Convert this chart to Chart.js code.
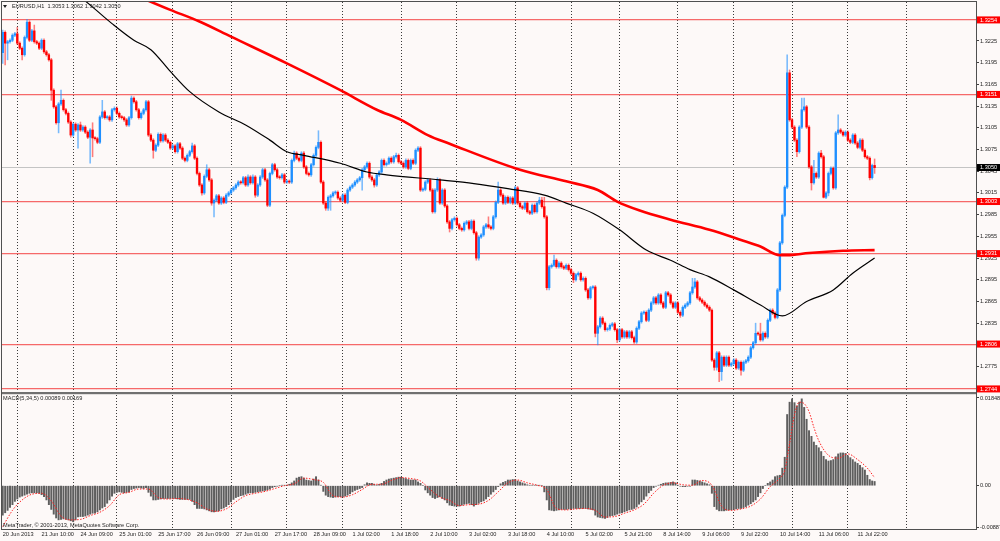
<!DOCTYPE html>
<html><head><meta charset="utf-8">
<script src="https://cdn.jsdelivr.net/npm/chart.js@4.4.0/dist/chart.umd.min.js"></script>
<style>html,body{margin:0;padding:0;background:#fdf9f8;}canvas{display:block}</style>
</head><body>
<canvas id="c" width="1000" height="541"></canvas>
<script>
// ---------- DATA ----------
const symbol = 'EURUSD', timeframe = 'H1';
const tickLabels = ['20 Jun 2013','21 Jun 10:00','24 Jun 09:00','25 Jun 01:00','25 Jun 17:00','26 Jun 09:00','27 Jun 01:00','27 Jun 17:00','28 Jun 09:00','1 Jul 02:00','1 Jul 18:00','2 Jul 10:00','3 Jul 02:00','3 Jul 18:00','4 Jul 10:00','5 Jul 02:00','5 Jul 21:00','8 Jul 14:00','9 Jul 06:00','9 Jul 22:00','10 Jul 14:00','11 Jul 06:00','11 Jul 22:00'];
const barsPerLabel = 16;
const dayBreakBars = [6,29,47,70,94,117,140,164,187,211,234,254,278,301,325,348,372];

const closes = [
1.3237,1.3222,1.3224,1.3226,1.3233,1.3235,1.3222,1.3215,1.3206,1.3230,
1.3251,1.3226,1.3239,1.3224,1.3222,1.3215,1.3226,1.3210,1.3206,1.3199,
1.3157,1.3134,1.3112,1.3138,1.3143,1.3130,1.3125,1.3113,1.3095,1.3110,
1.3102,1.3109,1.3102,1.3106,1.3099,1.3092,1.3102,1.3091,1.3090,1.3085,
1.3120,1.3127,1.3119,1.3120,1.3116,1.3130,1.3132,1.3125,1.3120,1.3119,
1.3116,1.3109,1.3119,1.3146,1.3141,1.3130,1.3119,1.3125,1.3130,1.3141,
1.3095,1.3088,1.3074,1.3081,1.3096,1.3087,1.3095,1.3088,1.3085,1.3077,
1.3080,1.3072,1.3083,1.3077,1.3063,1.3060,1.3067,1.3072,1.3080,1.3063,
1.3042,1.3026,1.3015,1.3038,1.3047,1.3033,1.3001,1.3005,1.3011,1.3001,
1.3008,1.3002,1.3012,1.3015,1.3019,1.3022,1.3026,1.3030,1.3029,1.3036,
1.3026,1.3037,1.3029,1.3037,1.3012,1.3026,1.3037,1.3047,1.3033,1.2998,
1.3042,1.3054,1.3047,1.3037,1.3036,1.3040,1.3030,1.3031,1.3030,1.3060,
1.3070,1.3063,1.3060,1.3070,1.3051,1.3042,1.3040,1.3054,1.3067,1.3078,
1.3085,1.3030,1.3001,1.2994,1.3009,1.3011,1.3015,1.3016,1.3008,1.3005,
1.3012,1.3002,1.3019,1.3023,1.3026,1.3030,1.3033,1.3036,1.3047,1.3051,
1.3056,1.3037,1.3033,1.3026,1.3040,1.3044,1.3060,1.3054,1.3056,1.3063,
1.3058,1.3065,1.3067,1.3058,1.3056,1.3051,1.3060,1.3049,1.3060,1.3056,
1.3074,1.3077,1.3019,1.3020,1.3030,1.3033,1.3019,1.2989,1.3019,1.3033,
1.3001,1.3019,1.2997,1.2975,1.2966,1.2978,1.2980,1.2971,1.2966,1.2964,
1.2973,1.2975,1.2966,1.2976,1.2960,1.2925,1.2954,1.2957,1.2968,1.2971,
1.2968,1.2966,1.2982,1.3002,1.3019,1.3012,1.3001,1.3009,1.3002,1.3008,
1.3001,1.3022,1.3001,1.2996,1.2994,1.3001,1.2989,1.2987,1.2998,1.2989,
1.3001,1.3005,1.2996,1.2982,1.2884,1.2913,1.2915,1.2922,1.2913,1.2918,
1.2913,1.2911,1.2915,1.2909,1.2904,1.2895,1.2902,1.2904,1.2895,1.2897,
1.2881,1.2870,1.2884,1.2885,1.2821,1.2830,1.2842,1.2835,1.2826,1.2827,
1.2832,1.2834,1.2826,1.2812,1.2826,1.2816,1.2823,1.2816,1.2823,1.2815,
1.2809,1.2828,1.2837,1.2849,1.2850,1.2839,1.2853,1.2863,1.2870,1.2863,
1.2874,1.2863,1.2857,1.2877,1.2874,1.2863,1.2857,1.2863,1.2850,1.2846,
1.2857,1.2860,1.2863,1.2877,1.2885,1.2892,1.2870,1.2867,1.2864,1.2860,
1.2857,1.2853,1.2784,1.2774,1.2794,1.2768,1.2788,1.2777,1.2788,1.2777,
1.2779,1.2784,1.2773,1.2781,1.2770,1.2781,1.2783,1.2788,1.2801,1.2808,
1.2821,1.2820,1.2812,1.2821,1.2816,1.2839,1.2853,1.2849,1.2843,1.2881,
1.2946,1.2984,1.3023,1.3181,1.3116,1.3106,1.3088,1.3072,1.3106,1.3130,
1.3134,1.3106,1.3051,1.3029,1.3042,1.3037,1.3070,1.3065,1.3009,1.3015,
1.3042,1.3049,1.3022,1.3098,1.3102,1.3099,1.3095,1.3099,1.3088,1.3085,
1.3095,1.3084,1.3078,1.3088,1.3074,1.3065,1.3063,1.3036,1.3053,1.3050];

const opens = [1.3209,
1.3237,1.3222,1.3224,1.3226,1.3233,1.3235,1.3222,1.3215,1.3206,1.3230,
1.3251,1.3226,1.3239,1.3224,1.3222,1.3215,1.3226,1.3210,1.3206,1.3199,
1.3157,1.3134,1.3112,1.3138,1.3143,1.3130,1.3125,1.3113,1.3095,1.3110,
1.3102,1.3109,1.3102,1.3106,1.3099,1.3092,1.3102,1.3091,1.3090,1.3085,
1.3120,1.3127,1.3119,1.3120,1.3116,1.3130,1.3132,1.3125,1.3120,1.3119,
1.3116,1.3109,1.3119,1.3146,1.3141,1.3130,1.3119,1.3125,1.3130,1.3141,
1.3095,1.3088,1.3074,1.3081,1.3096,1.3087,1.3095,1.3088,1.3085,1.3077,
1.3080,1.3072,1.3083,1.3077,1.3063,1.3060,1.3067,1.3072,1.3080,1.3063,
1.3042,1.3026,1.3015,1.3038,1.3047,1.3033,1.3001,1.3005,1.3011,1.3001,
1.3008,1.3002,1.3012,1.3015,1.3019,1.3022,1.3026,1.3030,1.3029,1.3036,
1.3026,1.3037,1.3029,1.3037,1.3012,1.3026,1.3037,1.3047,1.3033,1.2998,
1.3042,1.3054,1.3047,1.3037,1.3036,1.3040,1.3030,1.3031,1.3030,1.3060,
1.3070,1.3063,1.3060,1.3070,1.3051,1.3042,1.3040,1.3054,1.3067,1.3078,
1.3085,1.3030,1.3001,1.2994,1.3009,1.3011,1.3015,1.3016,1.3008,1.3005,
1.3012,1.3002,1.3019,1.3023,1.3026,1.3030,1.3033,1.3036,1.3047,1.3051,
1.3056,1.3037,1.3033,1.3026,1.3040,1.3044,1.3060,1.3054,1.3056,1.3063,
1.3058,1.3065,1.3067,1.3058,1.3056,1.3051,1.3060,1.3049,1.3060,1.3056,
1.3074,1.3077,1.3019,1.3020,1.3030,1.3033,1.3019,1.2989,1.3019,1.3033,
1.3001,1.3019,1.2997,1.2975,1.2966,1.2978,1.2980,1.2971,1.2966,1.2964,
1.2973,1.2975,1.2966,1.2976,1.2960,1.2925,1.2954,1.2957,1.2968,1.2971,
1.2968,1.2966,1.2982,1.3002,1.3019,1.3012,1.3001,1.3009,1.3002,1.3008,
1.3001,1.3022,1.3001,1.2996,1.2994,1.3001,1.2989,1.2987,1.2998,1.2989,
1.3001,1.3005,1.2996,1.2982,1.2884,1.2913,1.2915,1.2922,1.2913,1.2918,
1.2913,1.2911,1.2915,1.2909,1.2904,1.2895,1.2902,1.2904,1.2895,1.2897,
1.2881,1.2870,1.2884,1.2885,1.2821,1.2830,1.2842,1.2835,1.2826,1.2827,
1.2832,1.2834,1.2826,1.2812,1.2826,1.2816,1.2823,1.2816,1.2823,1.2815,
1.2809,1.2828,1.2837,1.2849,1.2850,1.2839,1.2853,1.2863,1.2870,1.2863,
1.2874,1.2863,1.2857,1.2877,1.2874,1.2863,1.2857,1.2863,1.2850,1.2846,
1.2857,1.2860,1.2863,1.2877,1.2885,1.2892,1.2870,1.2867,1.2864,1.2860,
1.2857,1.2853,1.2784,1.2774,1.2794,1.2768,1.2788,1.2777,1.2788,1.2777,
1.2779,1.2784,1.2773,1.2781,1.2770,1.2781,1.2783,1.2788,1.2801,1.2808,
1.2821,1.2820,1.2812,1.2821,1.2816,1.2839,1.2853,1.2849,1.2843,1.2881,
1.2946,1.2984,1.3023,1.3181,1.3116,1.3106,1.3088,1.3072,1.3106,1.3130,
1.3134,1.3106,1.3051,1.3029,1.3042,1.3037,1.3070,1.3065,1.3009,1.3015,
1.3042,1.3049,1.3022,1.3098,1.3102,1.3099,1.3095,1.3099,1.3088,1.3085,
1.3095,1.3084,1.3078,1.3088,1.3074,1.3065,1.3063,1.3036,1.3053];

const highs = [
1.3240,1.3239,1.3226,1.3228,1.3235,1.3237,1.3244,1.3224,1.3217,1.3232,
1.3255,1.3253,1.3241,1.3247,1.3226,1.3224,1.3228,1.3228,1.3212,1.3208,
1.3201,1.3159,1.3136,1.3140,1.3157,1.3145,1.3132,1.3127,1.3115,1.3112,
1.3112,1.3111,1.3113,1.3108,1.3108,1.3101,1.3104,1.3112,1.3093,1.3092,
1.3122,1.3143,1.3129,1.3122,1.3122,1.3132,1.3134,1.3134,1.3127,1.3122,
1.3121,1.3118,1.3121,1.3149,1.3148,1.3143,1.3132,1.3127,1.3132,1.3143,
1.3143,1.3097,1.3090,1.3083,1.3098,1.3098,1.3097,1.3097,1.3090,1.3087,
1.3082,1.3082,1.3085,1.3085,1.3079,1.3065,1.3069,1.3074,1.3084,1.3082,
1.3065,1.3044,1.3028,1.3040,1.3054,1.3049,1.3035,1.3007,1.3013,1.3013,
1.3010,1.3010,1.3014,1.3017,1.3021,1.3024,1.3028,1.3032,1.3032,1.3038,
1.3038,1.3040,1.3039,1.3040,1.3039,1.3028,1.3039,1.3049,1.3049,1.3035,
1.3044,1.3056,1.3056,1.3049,1.3039,1.3042,1.3042,1.3033,1.3033,1.3062,
1.3073,1.3072,1.3065,1.3072,1.3072,1.3053,1.3044,1.3056,1.3069,1.3080,
1.3101,1.3087,1.3032,1.3003,1.3011,1.3013,1.3017,1.3018,1.3018,1.3010,
1.3014,1.3014,1.3021,1.3025,1.3028,1.3032,1.3035,1.3038,1.3049,1.3053,
1.3058,1.3058,1.3039,1.3035,1.3042,1.3046,1.3062,1.3062,1.3058,1.3065,
1.3065,1.3067,1.3070,1.3069,1.3060,1.3058,1.3062,1.3062,1.3062,1.3062,
1.3076,1.3079,1.3079,1.3022,1.3032,1.3035,1.3035,1.3021,1.3021,1.3036,
1.3035,1.3021,1.3021,1.2999,1.2977,1.2980,1.2982,1.2982,1.2973,1.2968,
1.2975,1.2977,1.2977,1.2978,1.2978,1.2962,1.2956,1.2959,1.2970,1.2973,
1.2982,1.2970,1.2984,1.3004,1.3030,1.3021,1.3014,1.3011,1.3011,1.3010,
1.3010,1.3024,1.3024,1.3003,1.2998,1.3003,1.3003,1.2991,1.3000,1.3000,
1.3003,1.3009,1.3009,1.3009,1.2984,1.2915,1.2917,1.2929,1.2924,1.2920,
1.2920,1.2915,1.2917,1.2917,1.2911,1.2906,1.2904,1.2906,1.2906,1.2899,
1.2899,1.2883,1.2886,1.2887,1.2887,1.2832,1.2844,1.2844,1.2837,1.2829,
1.2834,1.2836,1.2836,1.2828,1.2828,1.2828,1.2825,1.2825,1.2825,1.2825,
1.2817,1.2830,1.2839,1.2851,1.2852,1.2852,1.2855,1.2865,1.2872,1.2872,
1.2876,1.2876,1.2865,1.2879,1.2879,1.2876,1.2865,1.2865,1.2865,1.2852,
1.2859,1.2862,1.2865,1.2879,1.2897,1.2897,1.2894,1.2872,1.2869,1.2866,
1.2862,1.2859,1.2855,1.2786,1.2796,1.2796,1.2790,1.2790,1.2790,1.2790,
1.2781,1.2786,1.2786,1.2783,1.2783,1.2783,1.2785,1.2790,1.2803,1.2810,
1.2835,1.2823,1.2835,1.2823,1.2823,1.2841,1.2855,1.2855,1.2851,1.2883,
1.2948,1.2986,1.3025,1.3206,1.3185,1.3118,1.3108,1.3090,1.3108,1.3146,
1.3146,1.3136,1.3108,1.3053,1.3060,1.3044,1.3072,1.3074,1.3067,1.3017,
1.3044,1.3051,1.3051,1.3100,1.3123,1.3104,1.3101,1.3101,1.3101,1.3090,
1.3097,1.3097,1.3086,1.3090,1.3090,1.3076,1.3067,1.3065,1.3055,1.3062];

const lows = [
1.3194,1.3192,1.3199,1.3222,1.3224,1.3231,1.3220,1.3213,1.3199,1.3204,
1.3228,1.3224,1.3224,1.3222,1.3220,1.3213,1.3213,1.3208,1.3204,1.3197,
1.3143,1.3132,1.3110,1.3098,1.3136,1.3128,1.3123,1.3111,1.3092,1.3093,
1.3100,1.3077,1.3100,1.3100,1.3097,1.3090,1.3056,1.3065,1.3088,1.3083,
1.3083,1.3118,1.3117,1.3117,1.3114,1.3114,1.3128,1.3123,1.3118,1.3117,
1.3114,1.3107,1.3107,1.3117,1.3139,1.3128,1.3117,1.3117,1.3123,1.3128,
1.3093,1.3086,1.3063,1.3072,1.3079,1.3085,1.3085,1.3086,1.3083,1.3075,
1.3075,1.3070,1.3070,1.3075,1.3061,1.3058,1.3058,1.3065,1.3070,1.3061,
1.3040,1.3024,1.3012,1.3013,1.3036,1.3031,1.2998,1.2982,1.3003,1.2999,
1.2999,1.3000,1.3000,1.3010,1.3013,1.3017,1.3020,1.3024,1.3027,1.3027,
1.3024,1.3024,1.3027,1.3027,1.3009,1.3010,1.3024,1.3035,1.3031,1.2996,
1.2996,1.3040,1.3045,1.3035,1.3034,1.3034,1.3028,1.3028,1.3028,1.3028,
1.3058,1.3061,1.3058,1.3058,1.3049,1.3040,1.3038,1.3038,1.3052,1.3065,
1.3076,1.3028,1.2999,1.2991,1.2991,1.2991,1.3009,1.3013,1.3006,1.3003,
1.3003,1.3000,1.3000,1.3017,1.3021,1.3024,1.3028,1.3031,1.3019,1.3045,
1.3049,1.3035,1.3031,1.3023,1.3024,1.3038,1.3042,1.3052,1.3052,1.3054,
1.3056,1.3056,1.3063,1.3056,1.3054,1.3049,1.3049,1.3047,1.3047,1.3054,
1.3054,1.3072,1.3017,1.3017,1.3018,1.3028,1.3017,1.2987,1.2987,1.3017,
1.2999,1.2999,1.2995,1.2973,1.2961,1.2964,1.2976,1.2969,1.2964,1.2962,
1.2962,1.2971,1.2964,1.2964,1.2958,1.2922,1.2922,1.2952,1.2955,1.2966,
1.2966,1.2964,1.2964,1.2980,1.3000,1.3010,1.2999,1.2999,1.3000,1.3000,
1.2999,1.2999,1.2999,1.2994,1.2992,1.2992,1.2987,1.2985,1.2985,1.2987,
1.2987,1.2999,1.2994,1.2980,1.2881,1.2881,1.2911,1.2913,1.2911,1.2911,
1.2911,1.2909,1.2909,1.2907,1.2902,1.2891,1.2893,1.2900,1.2893,1.2893,
1.2879,1.2868,1.2868,1.2882,1.2816,1.2805,1.2828,1.2833,1.2824,1.2824,
1.2825,1.2830,1.2824,1.2808,1.2810,1.2814,1.2814,1.2814,1.2814,1.2813,
1.2807,1.2807,1.2826,1.2835,1.2847,1.2837,1.2837,1.2851,1.2861,1.2861,
1.2861,1.2861,1.2855,1.2855,1.2872,1.2861,1.2855,1.2855,1.2848,1.2843,
1.2844,1.2855,1.2858,1.2861,1.2875,1.2883,1.2868,1.2865,1.2862,1.2858,
1.2855,1.2851,1.2782,1.2770,1.2770,1.2754,1.2756,1.2775,1.2775,1.2775,
1.2775,1.2777,1.2771,1.2771,1.2763,1.2768,1.2779,1.2781,1.2786,1.2799,
1.2806,1.2818,1.2810,1.2810,1.2814,1.2814,1.2837,1.2847,1.2841,1.2841,
1.2879,1.2944,1.2982,1.3021,1.3114,1.3104,1.3086,1.3065,1.3070,1.3104,
1.3128,1.3104,1.3049,1.3019,1.3027,1.3035,1.3035,1.3063,1.3008,1.3007,
1.3011,1.3040,1.3020,1.3020,1.3096,1.3097,1.3093,1.3093,1.3086,1.3083,
1.3083,1.3082,1.3076,1.3076,1.3072,1.3063,1.3061,1.3033,1.3034,1.3042];

// moving averages (read at selected bars)
const maSlowBars   = [55,59,69,81,94,117,139,154,164,175,184,213,232,245,253,262,275,291,304,312,320,323,332,346,359];
const maSlowValues = [1.3288,1.3282,1.3268,1.3252,1.3231,1.3194,1.3157,1.3130,1.3116,1.3095,1.3083,1.3047,1.3031,1.3019,1.3003,1.2991,1.2978,1.2964,1.2950,1.2941,1.2929,1.2929,1.2932,1.2935,1.2936];
const maFastBars   = [32,38,45,54,61,69,77,89,100,110,117,124,139,150,158,180,194,208,223,232,243,254,265,275,283,291,301,312,321,331,342,350,359];
const maFastValues = [1.3286,1.3269,1.3249,1.3226,1.3213,1.3183,1.3155,1.3127,1.3109,1.3088,1.3072,1.3067,1.3056,1.3044,1.3040,1.3033,1.3028,1.3021,1.3012,1.3001,1.2987,1.2964,1.2936,1.2922,1.2909,1.2899,1.2881,1.2860,1.2845,1.2865,1.2881,1.2904,1.2925];

// MACD(5,34,5) histogram, one value per bar
const macdValues = [
-0.0062,-0.0057,-0.0052,-0.0046,-0.0040,-0.0033,-0.0028,-0.0024,-0.0022,-0.0020,
-0.0018,-0.0016,-0.0015,-0.0015,-0.0015,-0.0016,-0.0019,-0.0023,-0.0030,-0.0040,
-0.0050,-0.0060,-0.0068,-0.0072,-0.0071,-0.0070,-0.0071,-0.0072,-0.0074,-0.0076,
-0.0072,-0.0066,-0.0065,-0.0065,-0.0064,-0.0062,-0.0060,-0.0058,-0.0058,-0.0055,
-0.0051,-0.0047,-0.0044,-0.0037,-0.0030,-0.0022,-0.0016,-0.0014,-0.0013,-0.0014,
-0.0015,-0.0014,-0.0013,-0.0008,-0.0006,-0.0005,-0.0004,-0.0005,-0.0006,-0.0004,
-0.0014,-0.0022,-0.0030,-0.0030,-0.0029,-0.0028,-0.0027,-0.0027,-0.0027,-0.0027,
-0.0027,-0.0027,-0.0028,-0.0029,-0.0029,-0.0029,-0.0029,-0.0029,-0.0033,-0.0040,
-0.0048,-0.0048,-0.0048,-0.0049,-0.0051,-0.0053,-0.0055,-0.0055,-0.0054,-0.0053,
-0.0049,-0.0047,-0.0044,-0.0040,-0.0034,-0.0029,-0.0025,-0.0023,-0.0021,-0.0020,
-0.0018,-0.0016,-0.0015,-0.0015,-0.0014,-0.0013,-0.0012,-0.0011,-0.0010,-0.0009,
-0.0007,-0.0004,-0.0002,-0.0001,0.0000,0.0001,0.0001,0.0001,0.0003,0.0006,
0.0010,0.0016,0.0018,0.0019,0.0016,0.0012,0.0011,0.0010,0.0014,0.0019,
0.0012,0.0001,-0.0012,-0.0020,-0.0023,-0.0024,-0.0025,-0.0024,-0.0023,-0.0023,
-0.0023,-0.0022,-0.0020,-0.0017,-0.0013,-0.0010,-0.0008,-0.0006,-0.0004,0.0002,
0.0006,0.0005,0.0005,0.0003,0.0001,0.0003,0.0005,0.0009,0.0012,0.0014,
0.0015,0.0016,0.0017,0.0018,0.0018,0.0016,0.0015,0.0013,0.0012,0.0012,
0.0012,0.0008,0.0005,0.0000,-0.0009,-0.0015,-0.0020,-0.0025,-0.0027,-0.0025,
-0.0023,-0.0027,-0.0030,-0.0036,-0.0041,-0.0042,-0.0043,-0.0043,-0.0043,-0.0041,
-0.0039,-0.0038,-0.0037,-0.0040,-0.0043,-0.0040,-0.0037,-0.0034,-0.0032,-0.0028,
-0.0023,-0.0018,-0.0013,-0.0008,-0.0002,0.0004,0.0007,0.0009,0.0012,0.0012,
0.0013,0.0013,0.0010,0.0008,0.0006,0.0004,0.0002,0.0001,0.0001,0.0001,
0.0001,0.0001,0.0000,-0.0013,-0.0030,-0.0051,-0.0052,-0.0053,-0.0052,-0.0051,
-0.0050,-0.0050,-0.0050,-0.0049,-0.0049,-0.0048,-0.0048,-0.0048,-0.0048,-0.0048,
-0.0048,-0.0049,-0.0050,-0.0051,-0.0062,-0.0066,-0.0067,-0.0068,-0.0069,-0.0067,
-0.0064,-0.0063,-0.0062,-0.0060,-0.0058,-0.0057,-0.0055,-0.0053,-0.0051,-0.0050,
-0.0048,-0.0045,-0.0039,-0.0034,-0.0029,-0.0022,-0.0015,-0.0010,-0.0004,-0.0001,
0.0001,0.0003,0.0005,0.0006,0.0006,0.0007,0.0008,0.0006,0.0001,-0.0001,
-0.0002,-0.0002,-0.0001,-0.0001,0.0012,0.0012,0.0011,0.0010,0.0008,0.0006,
0.0004,0.0002,-0.0016,-0.0044,-0.0050,-0.0053,-0.0053,-0.0053,-0.0052,-0.0051,
-0.0051,-0.0050,-0.0049,-0.0048,-0.0048,-0.0046,-0.0044,-0.0041,-0.0038,-0.0034,
-0.0030,-0.0023,-0.0015,-0.0006,0.0000,0.0005,0.0008,0.0012,0.0019,0.0021,
0.0022,0.0037,0.0060,0.0150,0.0176,0.0183,0.0175,0.0168,0.0176,0.0183,
0.0165,0.0140,0.0116,0.0104,0.0092,0.0085,0.0080,0.0072,0.0062,0.0055,
0.0052,0.0053,0.0055,0.0061,0.0067,0.0069,0.0069,0.0068,0.0063,0.0059,
0.0055,0.0050,0.0047,0.0043,0.0038,0.0033,0.0022,0.0013,0.0010,0.00089];
const signalBars = [0,4,8,12,16,20,24,28,32,36,40,44,48,52,56,60,64,68,72,76,80,84,88,92,96,100,104,108,112,116,120,124,128,132,136,140,144,148,152,156,160,164,168,172,176,180,184,188,192,196,200,204,208,212,216,220,224,228,232,236,240,244,248,252,256,260,264,268,272,276,280,284,288,292,296,300,304,308,312,316,320,322,324,326,328,330,332,334,336,340,344,348,352,356,359];
const signalValues = [-0.0086,-0.0052,-0.0030,-0.0018,-0.0016,-0.0032,-0.0064,-0.0072,-0.0071,-0.0063,-0.0056,-0.0042,-0.0019,-0.0014,-0.0007,-0.0007,-0.0025,-0.0028,-0.0027,-0.0029,-0.0036,-0.0049,-0.0054,-0.0049,-0.0034,-0.0021,-0.0016,-0.0012,-0.0006,0.0000,0.0004,0.0016,0.0013,0.0007,-0.0021,-0.0024,-0.0019,-0.0008,0.0003,0.0003,0.0011,0.0017,0.0015,0.0010,-0.0008,-0.0024,-0.0031,-0.0042,-0.0040,-0.0039,-0.0031,-0.0013,0.0006,0.0012,0.0006,0.0001,-0.0008,-0.0048,-0.0051,-0.0049,-0.0048,-0.0052,-0.0066,-0.0065,-0.0058,-0.0051,-0.0039,-0.0016,0.0001,0.0006,0.0002,0.0001,0.0011,0.0001,-0.0043,-0.0052,-0.0049,-0.0043,-0.0028,-0.0002,0.0016,0.0032,0.0089,0.0149,0.0176,0.0173,0.0156,0.0123,0.0095,0.0064,0.0058,0.0067,0.0055,0.0037,0.00169];

const levelPrices = [1.3254, 1.3151, 1.3003, 1.2931, 1.2806, 1.2744];
const currentPrice = 1.3050;
const priceTicks = [1.2775,1.2805,1.2835,1.2865,1.2895,1.2925,1.2955,1.2985,1.3015,1.3045,1.3075,1.3105,1.3135,1.3165,1.3195,1.3225];
const macdTicks = [0.01848, 0.0, -0.00887];
const priceRange = [1.27385, 1.32789];
const macdRange = [-0.009123, 0.019532];

// ---------- BUILD ----------
const FONT = "'Liberation Sans', Arial, sans-serif";
Chart.defaults.font.family = FONT;
Chart.defaults.font.size = 5.6;
Chart.defaults.font.lineHeight = 1;
const BULL = '#1e8fff', BEAR = '#ff0000';
const N = closes.length;
const isUp = closes.map((c, i) => c >= opens[i]);
const bodyData = closes.map((c, i) => ({x: i, y: [opens[i], c]}));
const wickData = closes.map((c, i) => ({x: i, y: [lows[i], highs[i]]}));
const macdData = macdValues.map((v, i) => ({x: i, y: v}));
const sigData = signalBars.map((b, k) => ({x: b, y: signalValues[k]}));
const slowData = maSlowBars.map((b, k) => ({x: b, y: maSlowValues[k]}));
const fastData = maFastBars.map((b, k) => ({x: b, y: maFastValues[k]}));
const XMIN = -0.3, XMAX = 400.75;

const kindOf = t => t && t.kind ? t.kind : 'reg';

const chromePlugin = {
  id: 'chrome',
  beforeDraw(chart) {
    const c = chart.ctx;
    c.save(); c.fillStyle = '#fdf9f8'; c.fillRect(0, 0, chart.width, chart.height); c.restore();
  },
  afterDraw(chart) {
    const c = chart.ctx, a = chart.chartArea, ys = chart.scales.y;
    c.save();
    c.strokeStyle = '#505050'; c.lineWidth = 1;
    c.strokeRect(a.left - 0.5, a.top - 0.5, a.right - a.left + 1, a.bottom - a.top + 1);
    c.fillStyle = '#707070';
    c.fillRect(a.left, ys.bottom - 1, a.right - a.left, 2.2);
    c.fillStyle = '#1e1e1e';
    c.font = '5.6px ' + FONT; c.textBaseline = 'middle'; c.textAlign = 'left';
    const f4 = v => v.toFixed(4), f5 = v => v.toFixed(5);
    const L = N - 1;
    c.fillText(symbol + ',' + timeframe + '  ' + f4(opens[L]) + ' ' + f4(highs[L]) + ' ' + f4(lows[L]) + ' ' + f4(closes[L]), 12, a.top + 4.5);
    c.beginPath(); c.moveTo(3, a.top + 3); c.lineTo(7, a.top + 3); c.lineTo(5, a.top + 6); c.closePath(); c.fill();
    const y2 = chart.scales.y2;
    c.fillText('MACD(5,34,5) ' + f5(macdValues[L]) + ' ' + f5(signalValues[signalValues.length - 1]), 3, y2.top + 5);
    c.fillText('MetaTrader, \u00A9 2001-2013, MetaQuotes Software Corp.', 3, y2.bottom - 3.5);
    c.restore();
  }
};

new Chart(document.getElementById('c'), {
  data: {
    datasets: [
      { type: 'bar', data: wickData, xAxisID: 'x', yAxisID: 'y', grouped: false, barThickness: 0.9, borderWidth: 0,
        backgroundColor: isUp.map(u => u ? 'rgba(30,143,255,0.6)' : 'rgba(255,0,0,0.5)'), order: 6 },
      { type: 'bar', data: bodyData, xAxisID: 'x', yAxisID: 'y', grouped: false, barThickness: 1.7, minBarLength: 1, borderWidth: 0,
        backgroundColor: isUp.map(u => u ? BULL : BEAR), order: 5 },
      { type: 'line', data: slowData, xAxisID: 'x', yAxisID: 'y', borderColor: '#ff0000', borderWidth: 2.6, pointRadius: 0,
        cubicInterpolationMode: 'monotone', order: 3 },
      { type: 'line', data: fastData, xAxisID: 'x', yAxisID: 'y', borderColor: '#000000', borderWidth: 1.2, pointRadius: 0,
        cubicInterpolationMode: 'monotone', order: 2 },
      { type: 'bar', data: macdData, xAxisID: 'x', yAxisID: 'y2', grouped: false, barThickness: 1.3, borderWidth: 0,
        backgroundColor: '#5e5e5e', order: 7 },
      { type: 'line', data: sigData, xAxisID: 'x', yAxisID: 'y2', borderColor: '#ff2020', borderWidth: 1, borderDash: [1.5, 1.5],
        pointRadius: 0, cubicInterpolationMode: 'monotone', order: 1 }
    ]
  },
  options: {
    responsive: false, animation: false, events: [],
    layout: { padding: { left: 2, top: 2, right: 0, bottom: 0 } },
    plugins: { legend: { display: false }, tooltip: { enabled: false } },
    scales: {
      x: {
        type: 'linear', position: 'bottom', min: XMIN, max: XMAX, offset: false,
        afterBuildTicks: s => { s.ticks = tickLabels.map((_, k) => ({ value: k * barsPerLabel })); },
        afterFit: s => { s.height = 12; s.paddingLeft = 0; s.paddingRight = 0; },
        grid: { display: false, drawTicks: false, offset: false },
        border: { display: true, color: '#505050' },
        ticks: { autoSkip: false, maxRotation: 0, minRotation: 0, align: 'start', padding: 2.5, color: '#1e1e1e',
          callback: (v, i) => tickLabels[i] }
      },
      xg: {
        type: 'linear', position: 'bottom', min: XMIN, max: XMAX, offset: false,
        afterBuildTicks: s => { s.ticks = dayBreakBars.map(v => ({ value: v })); },
        afterFit: s => { s.height = 0; s.paddingLeft = 0; s.paddingRight = 0; },
        ticks: { display: false },
        grid: { display: true, drawTicks: false, offset: false, color: '#3a3a3a', lineWidth: 1 },
        border: { display: false, dash: [1, 2] }
      },
      y: {
        type: 'linear', position: 'right', stack: 'panes', stackWeight: 391, min: priceRange[0], max: priceRange[1], bounds: 'data',
        afterBuildTicks: s => {
          s.ticks = priceTicks.map(v => ({ value: v, kind: 'reg' }))
            .concat(levelPrices.map(v => ({ value: v, kind: 'lvl' })))
            .concat([{ value: currentPrice, kind: 'cur' }]);
        },
        afterFit: s => { s.width = 24; s.paddingTop = 0; s.paddingBottom = 0; },
        grid: {
          drawOnChartArea: true, drawTicks: true, tickLength: 3,
          color: ctx => { const k = kindOf(ctx.tick); return k === 'lvl' ? 'rgba(245,80,80,0.85)' : k === 'cur' ? '#c4c4c4' : 'rgba(0,0,0,0)'; },
          lineWidth: ctx => kindOf(ctx.tick) === 'lvl' ? 1.3 : 1,
          tickColor: ctx => kindOf(ctx.tick) === 'reg' ? '#404040' : 'rgba(0,0,0,0)'
        },
        border: { display: true, color: '#505050' },
        ticks: {
          autoSkip: false, padding: 1,
          color: ctx => kindOf(ctx.tick) === 'reg' ? '#1e1e1e' : '#ffffff',
          showLabelBackdrop: ctx => kindOf(ctx.tick) !== 'reg',
          backdropColor: ctx => kindOf(ctx.tick) === 'cur' ? '#000000' : '#ff0000',
          backdropPadding: { left: 3, right: 3, top: 0.8, bottom: 0.6 },
          callback: v => v.toFixed(4)
        }
      },
      y2: {
        type: 'linear', position: 'right', stack: 'panes', stackWeight: 136, min: macdRange[0], max: macdRange[1], bounds: 'data',
        afterBuildTicks: s => { s.ticks = macdTicks.map(v => ({ value: v })); },
        afterFit: s => { s.width = 24; s.paddingTop = 0; s.paddingBottom = 0; },
        grid: { drawOnChartArea: false, drawTicks: true, tickLength: 3, tickColor: '#404040' },
        border: { display: true, color: '#505050' },
        ticks: { autoSkip: false, padding: 1, color: '#1e1e1e', callback: v => v === 0 ? '0.00' : v.toFixed(5) }
      }
    }
  },
  plugins: [chromePlugin]
});
</script>
</body></html>
